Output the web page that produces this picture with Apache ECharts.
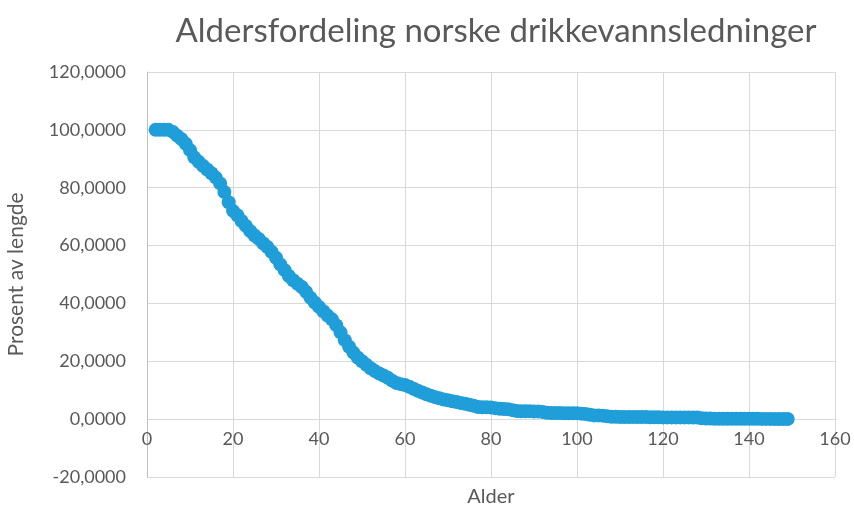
<!DOCTYPE html>
<html>
<head>
<meta charset="utf-8">
<script src="https://cdn.jsdelivr.net/npm/echarts@6/dist/echarts.min.js"></script>
<style>html,body{margin:0;padding:0;background:#fff;}#c{width:854px;height:507px;}</style>
</head>
<body>
<div id="c"></div>
<script>
const titleText = "Aldersfordeling norske drikkevannsledninger";
const xName = "Alder";
const yName = "Prosent av lengde";
const ages = [];
for (let a = 2; a <= 149; a++) ages.push(a);
const percent = [
 100, 100, 100, 100, 99.3, 98, 96.8, 95.2, 93, 90.5,
 89, 87.6, 86.3, 85, 83.5, 81.5, 78.5, 75, 72, 70.5,
 68.5, 66.8, 65, 63.5, 62.3, 60.8, 59.5, 57.8, 55.8, 53.5,
 51.5, 49.5, 48, 46.8, 45.7, 44, 42, 40.3, 38.8, 37.3,
 35.8, 34.5, 32.5, 30, 27.3, 25, 23, 21.3, 20, 18.8,
 17.6, 16.6, 15.8, 15.1, 14.3, 13.3, 12.5, 12.1, 11.8, 11.2,
 10.5, 9.8, 9.2, 8.6, 8.1, 7.6, 7.2, 6.8, 6.5, 6.2,
 5.9, 5.6, 5.3, 5.0, 4.6, 4.2, 4.1, 4.1, 4.0, 3.8,
 3.6, 3.5, 3.4, 3.1, 2.8, 2.7, 2.7, 2.7, 2.6, 2.6,
 2.5, 2.2, 2.1, 2.1, 2.1, 2.0, 2.0, 2.0, 2.0, 1.9,
 1.8, 1.5, 1.3, 1.3, 1.2, 1.0, 0.8, 0.8, 0.75, 0.75,
 0.7, 0.7, 0.7, 0.7, 0.7, 0.65, 0.65, 0.65, 0.6, 0.6,
 0.6, 0.6, 0.6, 0.6, 0.6, 0.55, 0.55, 0.3, 0.2, 0.2,
 0.15, 0.15, 0.15, 0.15, 0.12, 0.12, 0.12, 0.1, 0.1, 0.1,
 0.1, 0.08, 0.08, 0.08, 0.06, 0.06, 0.05, 0.05
];
const xTicks = {min: 0, max: 160, interval: 20};
const yTicks = {min: -20, max: 120, interval: 20};

const data = ages.map((a, i) => [a, percent[i]]);
const font = "Lato, 'Open Sans', sans-serif";
// The second grid ends at y = 0 of the main grid, so its x axis sits on the zero line (Excel style crossing)
const plotTop = 72, plotBottom = 477;
const zeroFrac = (yTicks.max - 0) / (yTicks.max - yTicks.min);
const zeroY = plotTop + (plotBottom - plotTop) * zeroFrac;
const chart = echarts.init(document.getElementById('c'), null, {renderer: 'canvas'});
chart.setOption({
  animation: false,
  backgroundColor: '#ffffff',
  title: {
    text: titleText, left: 491, top: 10, textAlign: 'center',
    textStyle: {fontFamily: font, fontWeight: 'normal', fontSize: 33, color: '#595959'}
  },
  grid: [
    {left: 147, right: 19, top: plotTop, bottom: 507 - plotBottom, containLabel: false, outerBoundsMode: 'none'},
    {left: 147, right: 19, top: plotTop, bottom: 507 - zeroY, containLabel: false, outerBoundsMode: 'none'}
  ],
  xAxis: [{
    gridIndex: 0,
    type: 'value', min: xTicks.min, max: xTicks.max, interval: xTicks.interval,
    axisLine: {show: false},
    axisTick: {show: false},
    axisLabel: {show: false},
    splitLine: {show: true, lineStyle: {color: '#D9D9D9', width: 1}}
  }, {
    gridIndex: 1,
    type: 'value', min: xTicks.min, max: xTicks.max, interval: xTicks.interval,
    name: xName, nameLocation: 'middle', nameGap: 67,
    nameTextStyle: {fontFamily: font, fontSize: 20, color: '#595959'},
    axisLine: {show: true, onZero: false, lineStyle: {color: '#D9D9D9', width: 1}},
    axisTick: {show: false},
    axisLabel: {fontFamily: font, fontSize: 18, color: '#595959', margin: 11},
    splitLine: {show: false}
  }],
  yAxis: [{
    gridIndex: 0,
    type: 'value', min: yTicks.min, max: yTicks.max, interval: yTicks.interval,
    name: yName, nameLocation: 'middle', nameGap: 120,
    nameTextStyle: {fontFamily: font, fontSize: 21, color: '#595959'},
    axisLine: {show: true, onZero: false, lineStyle: {color: '#BFBFBF', width: 1}},
    axisTick: {show: false},
    axisLabel: {fontFamily: font, fontSize: 18, color: '#595959', margin: 21,
      formatter: v => v.toFixed(4).replace('.', ',')},
    splitLine: {show: true, lineStyle: {color: '#D9D9D9', width: 1}}
  }, {
    gridIndex: 1, type: 'value', min: 0, max: yTicks.max, show: false
  }],
  series: [{
    type: 'scatter', xAxisIndex: 0, yAxisIndex: 0,
    data: data, symbol: 'circle', symbolSize: 14,
    itemStyle: {color: '#1F9ED9', opacity: 1}
  }]
});
</script>
</body>
</html>
